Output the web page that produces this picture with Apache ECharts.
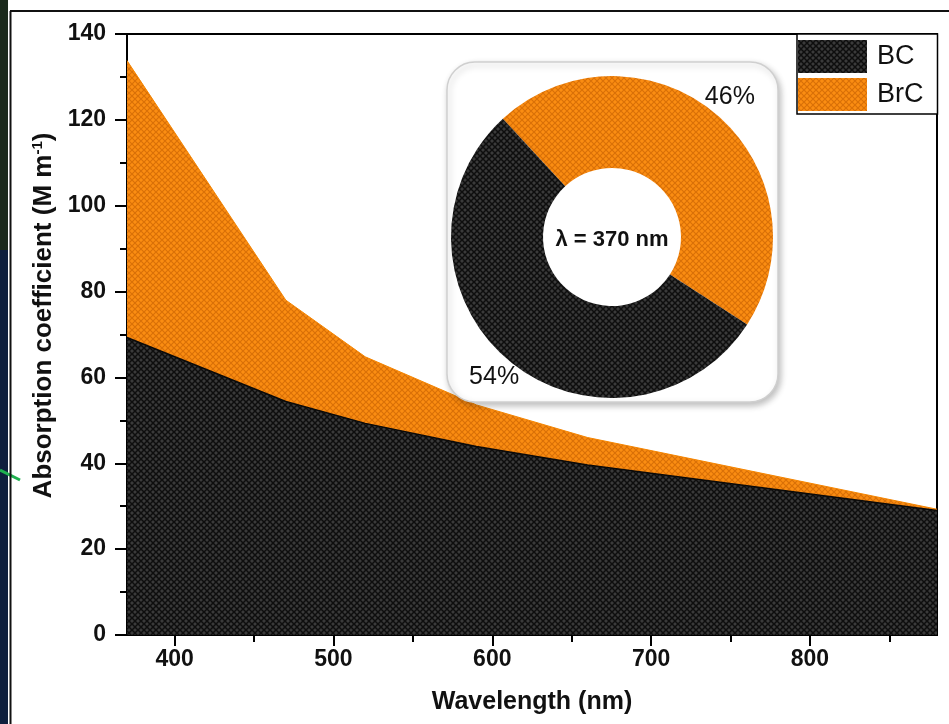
<!DOCTYPE html>
<html>
<head>
<meta charset="utf-8">
<script src="https://cdn.jsdelivr.net/npm/echarts@6/dist/echarts.min.js"></script>
<style>
html,body{margin:0;padding:0;background:#fff;}
#main{width:949px;height:724px;}
</style>
</head>
<body>
<div id="main"></div>
<script>
// ---- data ----
const wavelengths = [370, 470, 520, 590, 660, 880];
const bcValues    = [69.3, 54.4, 49.3, 43.9, 39.6, 29.0];
const brcValues   = [64.5, 23.6, 15.5, 9.7, 6.4, 0.3];
const seriesNames = ['BC', 'BrC'];
const xTickLabels = [400, 500, 600, 700, 800];
const xMinorTicks = [450, 550, 650, 750, 850];
const pieNames    = ['BrC', 'BC'];
const pieValues   = [46, 54];
const pieCenterText = 'λ = 370 nm';

// ---- patterns ----
function makePattern(base, line, size, lw) {
  const c = document.createElement('canvas');
  c.width = size; c.height = size;
  const g = c.getContext('2d');
  g.fillStyle = base; g.fillRect(0, 0, size, size);
  g.strokeStyle = line; g.lineWidth = lw;
  g.beginPath();
  g.moveTo(0, 0); g.lineTo(size, size);
  g.moveTo(size, 0); g.lineTo(0, size);
  g.stroke();
  return { image: c, repeat: 'repeat' };
}
const patBC  = makePattern('#3a3a3a', '#0e0e0e', 6, 1.5);
const patBrC = makePattern('#fb8d12', '#d97008', 6, 1.2);

// BC area sits on top of the BrC area, whose upper edge is BC + BrC
const bcData    = wavelengths.map((w, i) => [w, bcValues[i]]);
const totalData = wavelengths.map((w, i) => [w, +(bcValues[i] + brcValues[i]).toFixed(2)]);

const FONT = 'Liberation Sans, Arial, sans-serif';
const chart = echarts.init(document.getElementById('main'));

chart.setOption({
  animation: false,
  backgroundColor: '#fff',
  grid: { left: 127, right: 12, top: 34, bottom: 89, show: true, borderColor: '#000', borderWidth: 2, containLabel: false },
  legend: {
    orient: 'vertical', left: 797, top: 34,
    padding: [6, 14, 3, 1], itemGap: 5,
    itemWidth: 69, itemHeight: 33, icon: 'rect',
    borderColor: '#000', borderWidth: 1.5, backgroundColor: '#fff',
    textStyle: { fontFamily: FONT, fontSize: 27, color: '#111', padding: [0, 0, 0, 5] },
    data: [
      { name: seriesNames[0], itemStyle: { color: patBC } },
      { name: seriesNames[1], itemStyle: { color: patBrC } }
    ],
    z: 20
  },
  xAxis: [{
    type: 'value', min: 370, max: 880,
    name: 'Wavelength (nm)', nameLocation: 'middle', nameGap: 55,
    nameTextStyle: { fontFamily: FONT, fontSize: 25, fontWeight: 'bold', color: '#111' },
    axisLine: { show: true, lineStyle: { color: '#000', width: 2 } },
    axisTick: { show: true, customValues: xTickLabels, length: 11, lineStyle: { color: '#000', width: 2 } },
    axisLabel: { customValues: xTickLabels, margin: 13, fontFamily: FONT, fontSize: 23, fontWeight: 'bold', color: '#111' },
    splitLine: { show: false }
  }, {
    type: 'value', min: 370, max: 880, position: 'bottom',
    axisLine: { show: false },
    axisTick: { show: true, customValues: xMinorTicks, length: 7, lineStyle: { color: '#000', width: 2 } },
    axisLabel: { show: false },
    splitLine: { show: false }
  }],
  yAxis: {
    type: 'value', min: 0, max: 140, interval: 20,
    name: '{a|Absorption coefficient (M m}{s|-1}{a|)}', nameLocation: 'middle', nameGap: 70,
    nameTextStyle: {
      padding: [0, 0, 0, 38],
      rich: {
        a: { fontFamily: FONT, fontSize: 26, fontWeight: 'bold', color: '#111' },
        s: { fontFamily: FONT, fontSize: 15, fontWeight: 'bold', color: '#111', verticalAlign: 'top', padding: [0, 0, 10, 0] }
      }
    },
    axisLine: { show: true, lineStyle: { color: '#000', width: 2 } },
    axisTick: { show: true, length: 12, lineStyle: { color: '#000', width: 2 } },
    minorTick: { show: true, splitNumber: 2, length: 7, lineStyle: { color: '#000', width: 2 } },
    axisLabel: { margin: 21, fontFamily: FONT, fontSize: 23, fontWeight: 'bold', color: '#111' },
    splitLine: { show: false }
  },
  series: [
    {
      name: seriesNames[1], type: 'line', data: totalData,
      symbol: 'none', xAxisIndex: 0,
      lineStyle: { color: '#f58500', width: 1 },
      itemStyle: { color: '#f58500' },
      areaStyle: { color: patBrC, opacity: 1 }, z: 2
    },
    {
      name: seriesNames[0], type: 'line', data: bcData,
      symbol: 'none', xAxisIndex: 0,
      lineStyle: { color: '#0a0a0a', width: 1.5 },
      itemStyle: { color: '#333' },
      areaStyle: { color: patBC, opacity: 1 }, z: 3
    },
    {
      type: 'pie', center: [612, 237], radius: [69, 161], startAngle: 132.7, clockwise: true,
      silent: true, z: 6,
      label: { show: false }, labelLine: { show: false },
      data: pieNames.map((n, i) => ({ name: n, value: pieValues[i], itemStyle: { color: i === 0 ? patBrC : patBC } }))
    },
    {
      type: 'pie', center: [612, 237], radius: [154, 206], startAngle: 132.7, clockwise: true,
      silent: true, z: 7,
      itemStyle: { color: 'rgba(0,0,0,0)' },
      label: { show: true, position: 'inside', rotate: 0, formatter: '{c}%', fontFamily: FONT, fontSize: 25, color: '#111' },
      labelLine: { show: false },
      data: pieNames.map((n, i) => ({ name: n + ' ', value: pieValues[i] }))
    }
  ],
  graphic: [
    { type: 'rect', z: 0, shape: { x: 0, y: 0, width: 8, height: 724 }, style: { fill: '#0f1f3d' } },
    { type: 'rect', z: 0, shape: { x: 0, y: 0, width: 8, height: 250 }, style: { fill: '#1b2a1c' } },
    { type: 'line', z: 1, shape: { x1: 0, y1: 470, x2: 20, y2: 480 }, style: { stroke: '#1fb050', lineWidth: 3 } },
    { type: 'line', z: 1, shape: { x1: 10.5, y1: 11, x2: 10.5, y2: 724 }, style: { stroke: '#111', lineWidth: 2 } },
    { type: 'line', z: 1, shape: { x1: 10, y1: 11, x2: 949, y2: 11 }, style: { stroke: '#111', lineWidth: 2 } },
    {
      type: 'rect', z: 5,
      shape: { x: 447, y: 62, width: 331, height: 340, r: 28 },
      style: { fill: '#fff', stroke: '#cfcfcf', lineWidth: 1.5, shadowBlur: 6, shadowColor: 'rgba(0,0,0,0.25)', shadowOffsetX: 2, shadowOffsetY: 3 }
    },
    {
      type: 'text', z: 8, x: 612, y: 240,
      style: { text: pieCenterText, fontFamily: FONT, fontSize: 22, fontWeight: 'bold', fill: '#111', align: 'center', verticalAlign: 'middle' }
    }
  ]
});
</script>
</body>
</html>
